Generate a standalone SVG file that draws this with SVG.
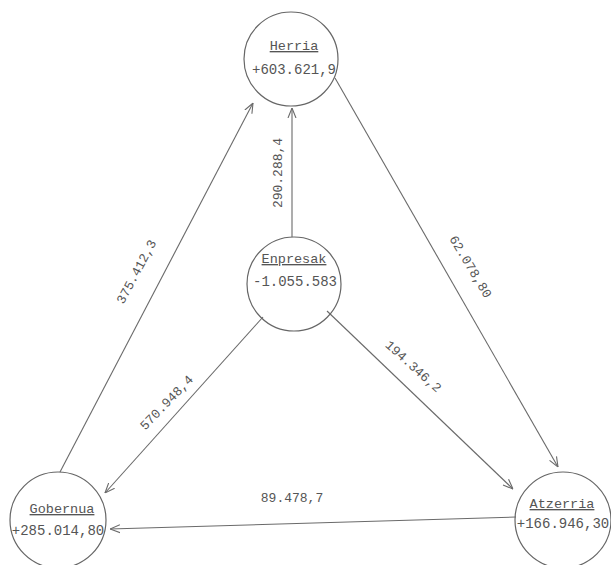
<svg xmlns="http://www.w3.org/2000/svg" width="611" height="565" viewBox="0 0 611 565">
<style>
.node circle{fill:none;stroke:#666;stroke-width:1.2}
.name{font-family:"Liberation Mono",monospace;font-size:13.5px;fill:#555;text-anchor:middle;text-decoration:underline}
.val{font-family:"Liberation Mono",monospace;font-size:14px;fill:#555;text-anchor:middle}
.conn path{fill:none;stroke:#6a6a6a;stroke-width:1.1;marker-end:url(#arr)}
.lbl{font-family:"Liberation Mono",monospace;font-size:13px;fill:#555;text-anchor:middle;dominant-baseline:central}
</style>
<defs>
<marker id="arr" viewBox="0 0 10 10" refX="10" refY="5" markerWidth="10" markerHeight="10" markerUnits="userSpaceOnUse" orient="auto">
<path d="M0,1 L10,5 L0,9" fill="none" stroke="#6a6a6a" stroke-width="1.1"/>
</marker>
</defs>
<rect width="611" height="565" fill="#fff"/>
<g id="connectors" class="conn">
<path d="M292,237 L292,108"/>
<path d="M60,472 L253,103"/>
<path d="M263,317 L105,493"/>
<path d="M327,311 L513,489"/>
<path d="M335,78 L558,467"/>
<path d="M516,517 L110,529"/>
</g>
<g id="edge-labels">
<text class="lbl" transform="translate(278,173) rotate(-90)">290.288,4</text>
<text class="lbl" transform="translate(137,272) rotate(-62)">375.412,3</text>
<text class="lbl" transform="translate(167,403) rotate(-46)">570.948,4</text>
<text class="lbl" transform="translate(413,367) rotate(42)">194.346,2</text>
<text class="lbl" transform="translate(470,267) rotate(59)">62.078,80</text>
<text class="lbl" transform="translate(292,498)">89.478,7</text>
</g>
<g id="herria" class="node">
<circle cx="291" cy="59" r="47"/>
<text class="name" x="294" y="50">Herria</text>
<text class="val" x="294" y="74">+603.621,9</text>
</g>
<g id="enpresak" class="node">
<circle cx="294" cy="284" r="47"/>
<text class="name" x="294" y="263">Enpresak</text>
<text class="val" x="295" y="286">-1.055.583</text>
</g>
<g id="gobernua" class="node">
<circle cx="58" cy="520" r="48"/>
<text class="name" x="62" y="513">Gobernua</text>
<text class="val" x="58" y="535">+285.014,80</text>
</g>
<g id="atzerria" class="node">
<circle cx="563" cy="520" r="48"/>
<text class="name" x="562" y="508">Atzerria</text>
<text class="val" x="563" y="528">+166.946,30</text>
</g>
</svg>
